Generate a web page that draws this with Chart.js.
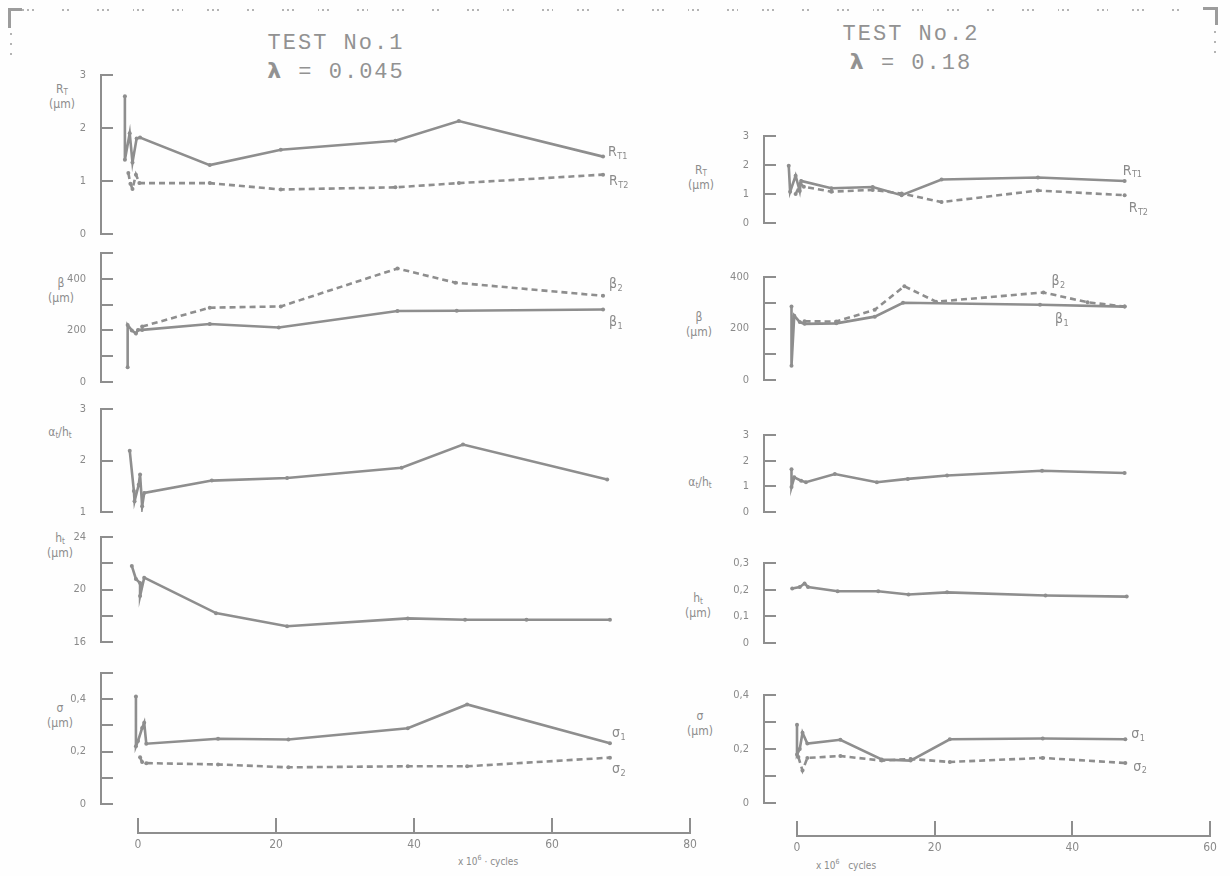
<!DOCTYPE html>
<html lang="en">
<head>
<meta charset="utf-8">
<title>Surface roughness parameters versus load cycles</title>
<script src="https://cdn.jsdelivr.net/npm/chart.js@4.4.1/dist/chart.umd.min.js"></script>
<style>
  html, body { margin: 0; padding: 0; }
  body {
    width: 1230px; height: 876px; position: relative; overflow: hidden;
    background: #fefefe; color: #8c8c8c;
    font-family: "DejaVu Sans Condensed", "DejaVu Sans", sans-serif;
  }
  canvas.plot { position: absolute; }
  .txt { position: absolute; white-space: nowrap; line-height: 1; transform: translate(-50%, -50%); text-align: center; }
  .title { font-family: "Liberation Mono", monospace; font-size: 22px; letter-spacing: 2px; color: #929292; line-height: 27px; }
  .title b { font-family: "DejaVu Sans", sans-serif; font-weight: bold; }
  .ax { font-size: 12px; line-height: 15px; }
  .ax sub { font-size: 8px; vertical-align: -2px; line-height: 0; }
  .cyc { font-size: 10px; }
  .cyc sup { font-size: 7px; vertical-align: 5px; line-height: 0; }
  .frame-top {
    position: absolute; left: 22px; top: 9px; width: 1180px; height: 2px;
    background: repeating-linear-gradient(90deg, #b4b4b4 0 2px, transparent 2px 5px);
    -webkit-mask-image: repeating-linear-gradient(90deg, #000 0 13px, transparent 13px 37px);
    mask-image: repeating-linear-gradient(90deg, #000 0 13px, transparent 13px 37px);
  }
  .corner { position: absolute; border-color: #9c9c9c; border-style: solid; border-width: 0; }
  .vdots {
    position: absolute; width: 2px;
    background: repeating-linear-gradient(180deg, #b4b4b4 0 2px, transparent 2px 10px);
  }
</style>
</head>
<body>

<div class="frame-top"></div>
<div class="corner" style="left:8px;top:8px;width:11px;height:17px;border-top-width:3px;border-left-width:3px;"></div>
<div class="vdots" style="left:10px;top:33px;height:26px;"></div>
<div class="corner" style="left:1203px;top:7px;width:12px;height:15px;border-top-width:3px;border-right-width:3px;"></div>
<div class="vdots" style="left:1214px;top:31px;height:24px;"></div>

<div class="txt title" style="left:336px;top:58px;">TEST No.1<br><b>λ</b> = 0.045</div>
<div class="txt title" style="left:911px;top:49px;">TEST No.2<br><b>λ</b> = 0.18</div>

<!-- axis names, test 1 -->
<div class="txt ax" style="left:62px;top:97px;">R<sub>T</sub><br>(µm)</div>
<div class="txt ax" style="left:61px;top:291px;">β<br>(µm)</div>
<div class="txt ax" style="left:60px;top:432px;">α<sub>t</sub>/h<sub>t</sub></div>
<div class="txt ax" style="left:60px;top:546px;">h<sub>t</sub><br>(µm)</div>
<div class="txt ax" style="left:60px;top:716px;">σ<br>(µm)</div>
<!-- axis names, test 2 -->
<div class="txt ax" style="left:701px;top:178px;">R<sub>T</sub><br>(µm)</div>
<div class="txt ax" style="left:699px;top:325px;">β<br>(µm)</div>
<div class="txt ax" style="left:700px;top:482px;">α<sub>t</sub>/h<sub>t</sub></div>
<div class="txt ax" style="left:698px;top:606px;">h<sub>t</sub><br>(µm)</div>
<div class="txt ax" style="left:700px;top:724px;">σ<br>(µm)</div>

<div class="txt cyc" style="left:488px;top:862px;">x 10<sup>6</sup> · cycles</div>
<div class="txt cyc" style="left:846px;top:866px;">x 10<sup>6</sup> &nbsp;&nbsp;cycles</div>

<script>
// ---- Test No.1 (λ = 0.045): [cycles ×10^6, value] ----
const t1RT1 = [[-1.9, 2.6], [-1.9, 1.4], [-1.2, 1.9], [-0.8, 1.35], [-0.2, 1.8], [0.3, 1.82], [10.4, 1.30], [20.7, 1.59], [37.3, 1.76], [46.5, 2.13], [67.4, 1.46]];
const t1RT2 = [[-1.4, 1.15], [-1.1, 0.95], [-0.8, 0.85], [-0.3, 1.12], [0.2, 0.96], [10.4, 0.96], [20.7, 0.84], [37.3, 0.88], [46.5, 0.96], [67.4, 1.12]];
const t1B1 = [[-1.5, 57], [-1.5, 221], [-0.9, 200], [-0.3, 188], [0, 202], [0.6, 202], [10.4, 225], [20.4, 211], [37.6, 275], [46.2, 276], [67.4, 281]];
const t1B2 = [[0.6, 215], [10.4, 288], [20.7, 293], [37.6, 440], [46.0, 385], [67.4, 334]];
const t1AH = [[-1.2, 2.19], [-0.6, 1.41], [-0.5, 1.21], [0.1, 1.53], [0.3, 1.73], [0.6, 1.11], [0.9, 1.37], [10.7, 1.61], [21.6, 1.66], [38.2, 1.86], [47.1, 2.31], [68.0, 1.63]];
const t1H = [[-0.9, 21.8], [-0.3, 20.8], [0.3, 20.5], [0.3, 19.5], [0.9, 20.9], [11.3, 18.2], [21.6, 17.2], [39.1, 17.8], [47.4, 17.7], [56.3, 17.7], [68.4, 17.7]];
const t1S1 = [[-0.3, 0.41], [-0.3, 0.22], [0, 0.24], [0.6, 0.29], [0.9, 0.31], [1.2, 0.23], [11.6, 0.249], [21.8, 0.246], [39.1, 0.289], [47.7, 0.38], [68.4, 0.232]];
const t1S2 = [[0.3, 0.178], [0.6, 0.16], [1.2, 0.156], [11.6, 0.151], [21.8, 0.14], [39.1, 0.144], [47.7, 0.144], [68.4, 0.177]];

// ---- Test No.2 (λ = 0.18) ----
const t2RT1 = [[-1.2, 1.97], [-1.0, 1.08], [-0.2, 1.63], [0.4, 1.1], [0.6, 1.45], [5.0, 1.2], [11.0, 1.24], [15.2, 0.96], [21.0, 1.5], [35.0, 1.57], [47.6, 1.45]];
const t2RT2 = [[-0.2, 1.0], [0.5, 1.35], [1.0, 1.25], [5.0, 1.08], [11.0, 1.14], [15.2, 1.02], [21.0, 0.72], [35.0, 1.12], [47.6, 0.96]];
const t2B1 = [[-0.8, 285], [-0.8, 55], [-0.4, 250], [0.4, 225], [1.1, 218], [5.7, 220], [11.3, 246], [15.4, 300], [35.3, 292], [47.6, 285]];
const t2B2 = [[1.1, 228], [5.7, 227], [11.3, 273], [15.6, 364], [20.2, 304], [35.8, 340], [42.2, 302], [47.6, 285]];
const t2AH = [[-0.8, 1.67], [-0.8, 0.97], [-0.4, 1.35], [0.6, 1.22], [1.3, 1.16], [5.5, 1.48], [11.6, 1.16], [16.1, 1.29], [21.8, 1.42], [35.6, 1.61], [47.6, 1.52]];
const t2H = [[-0.7, 0.204], [0.4, 0.21], [1.1, 0.223], [1.6, 0.21], [5.9, 0.194], [11.8, 0.194], [16.2, 0.182], [21.8, 0.19], [36.1, 0.178], [47.9, 0.174]];
const t2S1 = [[0, 0.29], [0, 0.18], [0.4, 0.2], [0.8, 0.26], [1.5, 0.22], [6.3, 0.234], [12.3, 0.161], [16.5, 0.157], [22.2, 0.236], [35.7, 0.239], [47.7, 0.236]];
const t2S2 = [[0.2, 0.17], [0.8, 0.12], [1.5, 0.167], [6.3, 0.174], [12.3, 0.157], [16.5, 0.163], [22.2, 0.152], [35.7, 0.167], [47.7, 0.148]];

// ---- tick values ----
const t1XTicks = [0, 20, 40, 60, 80];
const t2XTicks = [0, 20, 40, 60];
const rtTicks = [0, 1, 2, 3];
const t1BetaTicks = [0, 100, 200, 300, 400, 500];
const t2BetaTicks = [0, 100, 200, 300, 400];
const betaLabels = [0, 200, 400];
const t1AHTicks = [1, 2, 3];
const t2AHTicks = [0, 1, 2, 3];
const t1HTicks = [16, 18, 20, 22, 24];
const t1HLabels = [16, 20, 24];
const t2HTicks = [0, 0.1, 0.2, 0.3];
const t1SigmaTicks = [0, 0.1, 0.2, 0.3, 0.4, 0.5];
const t2SigmaTicks = [0, 0.1, 0.2, 0.3, 0.4];
const sigmaLabels = [0, 0.2, 0.4];

const GREY = '#8e8e8e';
const TEXT = '#8a8a8a';
const TICK_FONT = { size: 11, family: '"DejaVu Sans Condensed", "DejaVu Sans", sans-serif' };

// Column geometry: pixel of the y-axis line, of x = 0 and of the last x tick.
const COLS = {
  t1: { axisPx: 101, zeroPx: 138, endPx: 690, xMax: 80, xTicks: t1XTicks, lineY: 833 },
  t2: { axisPx: 764, zeroPx: 797, endPx: 1210, xMax: 60, xTicks: t2XTicks, lineY: 836 }
};

const decimalComma = v => String(v).replace('.', ',');

// short tick marks pointing into the plot, as on the bracket-style axes
const innerTicks = {
  id: 'innerTicks',
  afterDraw(chart) {
    const y = chart.scales.y;
    const ctx = chart.ctx;
    const x0 = chart.chartArea.left;
    ctx.save();
    ctx.strokeStyle = GREY;
    ctx.lineWidth = 2;
    ctx.setLineDash([]);
    y.ticks.forEach(t => {
      const py = Math.round(y.getPixelForValue(t.value));
      ctx.beginPath();
      ctx.moveTo(x0 - 1, py);
      ctx.lineTo(x0 + 12, py);
      ctx.stroke();
    });
    ctx.restore();
  }
};

// series names written beside a chosen point of each curve
const curveNames = {
  id: 'curveNames',
  afterDatasetsDraw(chart) {
    const ctx = chart.ctx;
    chart.data.datasets.forEach((ds, i) => {
      const tag = ds.tag;
      if (!tag) return;
      const meta = chart.getDatasetMeta(i);
      const pt = meta.data[tag.at === undefined ? meta.data.length - 1 : tag.at];
      const x = pt.x + tag.dx;
      const y = pt.y + tag.dy;
      ctx.save();
      ctx.fillStyle = TEXT;
      ctx.textBaseline = 'middle';
      ctx.textAlign = 'left';
      ctx.font = '14px "DejaVu Sans Condensed", "DejaVu Sans", sans-serif';
      ctx.fillText(tag.main, x, y);
      const w = ctx.measureText(tag.main).width;
      ctx.font = '9px "DejaVu Sans Condensed", "DejaVu Sans", sans-serif';
      ctx.fillText(tag.sub, x + w + 0.5, y + 4);
      ctx.restore();
    });
  }
};

function makeCanvas(left, top, w, h) {
  const cv = document.createElement('canvas');
  cv.className = 'plot';
  cv.width = w; cv.height = h;
  cv.style.left = left + 'px'; cv.style.top = top + 'px';
  cv.style.width = w + 'px'; cv.style.height = h + 'px';
  document.body.appendChild(cv);
  return cv;
}

function buildPanel(p) {
  const col = COLS[p.col];
  const pxPerUnit = (col.endPx - col.zeroPx) / col.xMax;
  const xMin = -(col.zeroPx - col.axisPx) / pxPerUnit;
  const padL = 60, padR = 70, padV = 14;
  const w = col.endPx - col.axisPx + padL + padR;
  const h = p.bottom - p.top + 2 * padV;
  const cv = makeCanvas(col.axisPx - padL, p.top - padV, w, h);
  const labeled = p.labels || p.ticks;
  new Chart(cv, {
    type: 'line',
    data: {
      datasets: p.series.map(s => ({
        data: s.pts.map(([x, y]) => ({ x, y })),
        borderColor: GREY,
        backgroundColor: GREY,
        borderWidth: 2.6,
        borderDash: s.dashed ? [6, 4] : [],
        pointRadius: 2,
        pointBorderWidth: 0,
        tension: 0,
        tag: s.tag
      }))
    },
    options: {
      responsive: false,
      animation: false,
      events: [],
      layout: { padding: { left: 0, right: padR, top: padV, bottom: padV } },
      plugins: { legend: { display: false }, tooltip: { enabled: false } },
      scales: {
        x: { type: 'linear', display: false, min: xMin, max: col.xMax },
        y: {
          type: 'linear',
          min: p.min, max: p.max,
          afterFit: s => { s.width = padL; },
          afterBuildTicks: s => { s.ticks = p.ticks.map(v => ({ value: v })); },
          grid: { display: false },
          border: { display: true, color: GREY, width: 2 },
          ticks: {
            padding: 7, color: TEXT, font: TICK_FONT,
            callback: v => (labeled.includes(v) ? decimalComma(v) : '')
          }
        }
      }
    },
    plugins: [innerTicks, curveNames]
  });
}

function buildCycleAxis(key) {
  const col = COLS[key];
  const padX = 20, tickH = 15, below = 26;
  const cv = makeCanvas(col.zeroPx - padX, col.lineY - tickH - 2, col.endPx - col.zeroPx + 2 * padX, tickH + 2 + below);
  new Chart(cv, {
    type: 'line',
    data: { datasets: [] },
    options: {
      responsive: false,
      animation: false,
      events: [],
      layout: { padding: { left: padX, right: padX, top: 2, bottom: 0 } },
      plugins: { legend: { display: false }, tooltip: { enabled: false } },
      scales: {
        x: {
          type: 'linear', min: 0, max: col.xMax,
          afterFit: s => { s.height = below; },
          afterBuildTicks: s => { s.ticks = col.xTicks.map(v => ({ value: v })); },
          grid: { display: true, drawOnChartArea: true, drawTicks: false, color: GREY, lineWidth: 2 },
          border: { display: true, color: GREY, width: 2 },
          ticks: { padding: 5, color: TEXT, font: { size: 12, family: TICK_FONT.family }, maxRotation: 0, autoSkip: false }
        },
        y: { display: false, min: 0, max: 1 }
      }
    }
  });
}

const PANELS = [
  { col: 't1', top: 75, bottom: 234, min: 0, max: 3, ticks: rtTicks, series: [
    { pts: t1RT1, tag: { main: 'R', sub: 'T1', dx: 5, dy: -4 } },
    { pts: t1RT2, dashed: true, tag: { main: 'R', sub: 'T2', dx: 6, dy: 7 } } ] },
  { col: 't1', top: 253, bottom: 382, min: 0, max: 500, ticks: t1BetaTicks, labels: betaLabels, series: [
    { pts: t1B1, tag: { main: 'β', sub: '1', dx: 6, dy: 13 } },
    { pts: t1B2, dashed: true, tag: { main: 'β', sub: '2', dx: 6, dy: -11 } } ] },
  { col: 't1', top: 409, bottom: 512, min: 1, max: 3, ticks: t1AHTicks, series: [
    { pts: t1AH } ] },
  { col: 't1', top: 537, bottom: 642, min: 16, max: 24, ticks: t1HTicks, labels: t1HLabels, series: [
    { pts: t1H } ] },
  { col: 't1', top: 673, bottom: 804, min: 0, max: 0.5, ticks: t1SigmaTicks, labels: sigmaLabels, series: [
    { pts: t1S1, tag: { main: 'σ', sub: '1', dx: 2, dy: -10 } },
    { pts: t1S2, dashed: true, tag: { main: 'σ', sub: '2', dx: 2, dy: 12 } } ] },

  { col: 't2', top: 136, bottom: 223, min: 0, max: 3, ticks: rtTicks, series: [
    { pts: t2RT1, tag: { main: 'R', sub: 'T1', dx: -2, dy: -10 } },
    { pts: t2RT2, dashed: true, tag: { main: 'R', sub: 'T2', dx: 4, dy: 13 } } ] },
  { col: 't2', top: 277, bottom: 380, min: 0, max: 400, ticks: t2BetaTicks, labels: betaLabels, series: [
    { pts: t2B1, tag: { main: 'β', sub: '1', dx: 15, dy: 15, at: 8 } },
    { pts: t2B2, dashed: true, tag: { main: 'β', sub: '2', dx: 8, dy: -11, at: 5 } } ] },
  { col: 't2', top: 435, bottom: 512, min: 0, max: 3, ticks: t2AHTicks, series: [
    { pts: t2AH } ] },
  { col: 't2', top: 563, bottom: 643, min: 0, max: 0.3, ticks: t2HTicks, series: [
    { pts: t2H } ] },
  { col: 't2', top: 695, bottom: 803, min: 0, max: 0.4, ticks: t2SigmaTicks, labels: sigmaLabels, series: [
    { pts: t2S1, tag: { main: 'σ', sub: '1', dx: 6, dy: -5 } },
    { pts: t2S2, dashed: true, tag: { main: 'σ', sub: '2', dx: 8, dy: 4 } } ] }
];

PANELS.forEach(buildPanel);
buildCycleAxis('t1');
buildCycleAxis('t2');
</script>
</body>
</html>
